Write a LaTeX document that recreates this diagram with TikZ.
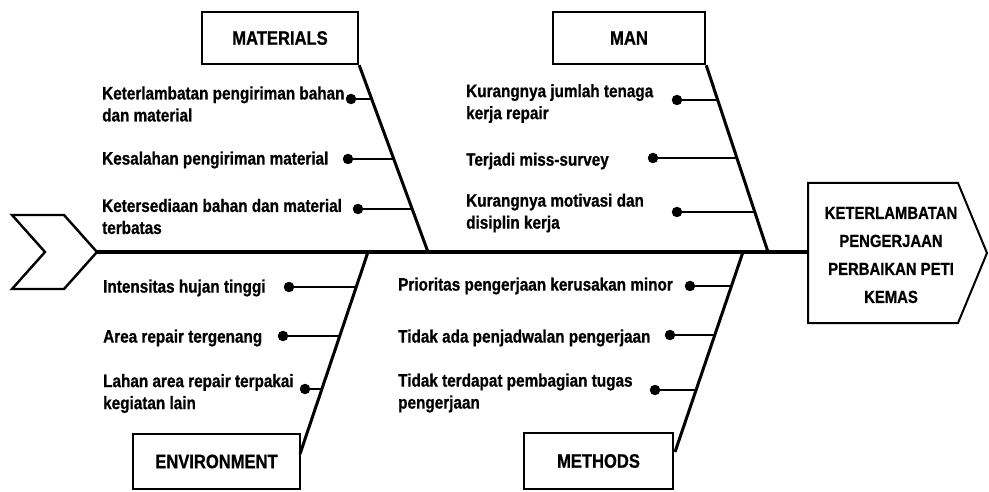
\documentclass[tikz,border=0pt]{standalone}
\usepackage{fontspec}
\setmainfont{Liberation Sans}[FakeStretch=0.85,BoldFeatures={FakeBold=0.8}]
\usetikzlibrary{calc}
\begin{document}
\begin{tikzpicture}[x=1pt,y=-1pt,
  catbox/.style={draw,line width=2.4pt,inner sep=0pt,font=\fontsize{19.5}{22}\selectfont\bfseries},
  item/.style={anchor=west,align=left,inner sep=0pt,font=\fontsize{18}{22}\selectfont\bfseries},
  dot/.style={circle,fill=black,inner sep=0pt,minimum size=10.5pt},
  bone/.style={line width=3pt},
  twig/.style={line width=1.5pt},
  spine/.style={line width=4pt}]
\useasboundingbox (0,0) rectangle (989,492);
% tail chevron
\coordinate (t1) at (12,215);
\coordinate (t2) at (64,215);
\coordinate (tail) at (97,252);
\coordinate (t4) at (64,289);
\coordinate (t5) at (12,289);
\coordinate (t6) at (45,252);
\draw[line width=2.4pt,line join=miter] (t1) -- (t2) -- (tail) -- (t4) -- (t5) -- (t6) -- cycle;
% head
\coordinate (h1) at (808,183);
\coordinate (h2) at (958,183);
\coordinate (h3) at (987,253);
\coordinate (h4) at (958,323);
\coordinate (h5) at (808,323);
\draw[line width=2pt] (h1) -- (h2) -- (h3) -- (h4) -- (h5) -- cycle;
\node[align=center,font=\fontsize{17.5}{28}\selectfont\bfseries] (head) at (891,255) {KETERLAMBATAN\\PENGERJAAN\\PERBAIKAN PETI\\KEMAS};
\coordinate (hw) at (808,252);
\draw[spine] (tail) -- (hw);
% category boxes
\node[catbox,minimum width=156pt,minimum height=52pt] (mat) at (280,38) {MATERIALS};
\node[catbox,minimum width=152pt,minimum height=52pt] (man) at (629,38) {MAN};
\node[catbox,minimum width=167pt,minimum height=55pt] (env) at (216.5,461.5) {ENVIRONMENT};
\node[catbox,minimum width=149pt,minimum height=56pt] (met) at (598.5,461) {METHODS};
% bones
\coordinate (matS) at (428,252);
\coordinate (manS) at (768,252);
\coordinate (envS) at (368,252);
\coordinate (metS) at (743,252);
\coordinate (envB) at (300,454);
\coordinate (metB) at (675,452);
\draw[bone] (mat.south east) -- (matS);
\draw[bone] (man.south east) -- (manS);
\draw[bone] (envB) -- (envS);
\draw[bone] (metB) -- (metS);
% MATERIALS causes
\node[item] (m1) at (102,104) {Keterlambatan pengiriman bahan\\dan material};
\node[item] (m2) at (102,160) {Kesalahan pengiriman material};
\node[item] (m3) at (102,216.5) {Ketersediaan bahan dan material\\terbatas};
\node[dot] (md1) at (351,99) {};
\node[dot] (md2) at (348,159) {};
\node[dot] (md3) at (358,209) {};
\coordinate (mb1) at (371,99);
\coordinate (mb2) at (393.4,159);
\coordinate (mb3) at (412,209);
\draw[twig] (md1) -- (mb1);
\draw[twig] (md2) -- (mb2);
\draw[twig] (md3) -- (mb3);
% MAN causes
\node[item] (n1) at (466,103.5) {Kurangnya jumlah tenaga\\kerja repair};
\node[item] (n2) at (466,161) {Terjadi miss-survey};
\node[item] (n3) at (466,213) {Kurangnya motivasi dan\\disiplin kerja};
\node[dot] (nd1) at (677,100) {};
\node[dot] (nd2) at (653,158) {};
\node[dot] (nd3) at (677,212) {};
\coordinate (nb1) at (717,100);
\coordinate (nb2) at (736.5,158);
\coordinate (nb3) at (754.6,212);
\draw[twig] (nd1) -- (nb1);
\draw[twig] (nd2) -- (nb2);
\draw[twig] (nd3) -- (nb3);
% ENVIRONMENT causes
\node[item] (e1) at (103,288) {Intensitas hujan tinggi};
\node[item] (e2) at (103,338) {Area repair tergenang};
\node[item] (e3) at (103,393.5) {Lahan area repair terpakai\\kegiatan lain};
\node[dot] (ed1) at (289,287) {};
\node[dot] (ed2) at (283,336) {};
\node[dot] (ed3) at (305,389) {};
\coordinate (eb1) at (356.3,287);
\coordinate (eb2) at (339.8,336);
\coordinate (eb3) at (321.9,389);
\draw[twig] (ed1) -- (eb1);
\draw[twig] (ed2) -- (eb2);
\draw[twig] (ed3) -- (eb3);
% METHODS causes
\node[item] (r1) at (398,286) {Prioritas pengerjaan kerusakan minor};
\node[item] (r2) at (398,338) {Tidak ada penjadwalan pengerjaan};
\node[item] (r3) at (398,393) {Tidak terdapat pembagian tugas\\pengerjaan};
\node[dot] (rd1) at (690,286) {};
\node[dot] (rd2) at (670,335) {};
\node[dot] (rd3) at (655,390) {};
\coordinate (rb1) at (731.4,286);
\coordinate (rb2) at (714.8,335);
\coordinate (rb3) at (696,390);
\draw[twig] (rd1) -- (rb1);
\draw[twig] (rd2) -- (rb2);
\draw[twig] (rd3) -- (rb3);
\end{tikzpicture}
\end{document}
